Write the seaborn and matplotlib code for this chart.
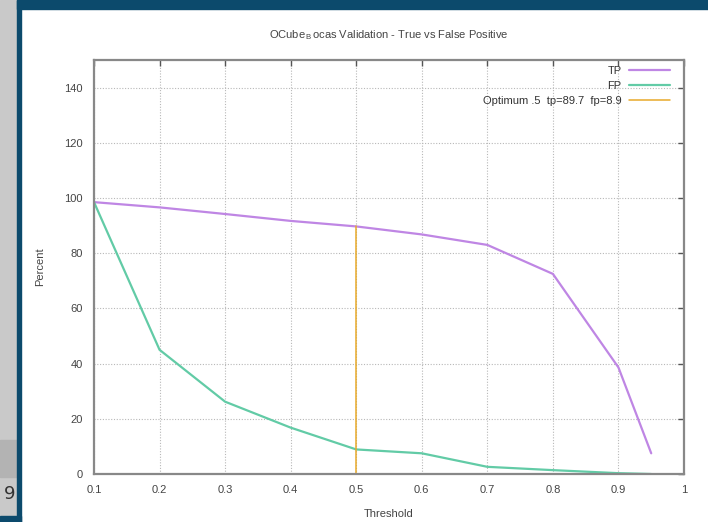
import matplotlib
matplotlib.use('Agg')
import matplotlib.pyplot as plt
from matplotlib.patches import Rectangle
import numpy as np
import pandas as pd
import seaborn as sns

# Data
thresholds = [0.1, 0.2, 0.3, 0.4, 0.5, 0.6, 0.7, 0.8, 0.9, 0.95]
tp = [98.5, 96.6, 94.2, 91.7, 89.7, 86.8, 83.0, 72.5, 38.6, 7.5]
fp = [98.5, 45.0, 26.2, 16.8, 8.9, 7.5, 2.6, 1.4, 0.3, 0.0]
opt_x = 0.5
opt_tp = 89.7
opt_fp = 8.9
x_ticks = [0.1, 0.2, 0.3, 0.4, 0.5, 0.6, 0.7, 0.8, 0.9, 1.0]
x_labels = ['0.1', '0.2', '0.3', '0.4', '0.5', '0.6', '0.7', '0.8', '0.9', '1']
y_ticks = [0, 20, 40, 60, 80, 100, 120, 140]

df = pd.DataFrame({
    'Threshold': thresholds * 2,
    'Percent': tp + fp,
    'series': ['TP'] * len(tp) + ['FP'] * len(fp),
})
opt_label = f'Optimum .5  tp={opt_tp}  fp={opt_fp}'
df_opt = pd.DataFrame({'Threshold': [opt_x, opt_x], 'Percent': [0, opt_tp], 'series': [opt_label] * 2})

sns.set_theme(style='white')
plt.rcParams['font.family'] = ['Liberation Sans', 'DejaVu Sans']
plt.rcParams['mathtext.fontset'] = 'custom'
plt.rcParams['mathtext.rm'] = 'Liberation Sans'

fig = plt.figure(figsize=(7.08, 5.22), dpi=100)
ax = fig.add_axes([94 / 708, 48 / 522, 590 / 708, 414 / 522])

palette = {'TP': '#bf86e4', 'FP': '#62cba6'}
sns.lineplot(data=df, x='Threshold', y='Percent', hue='series', palette=palette,
             linewidth=1.6, ax=ax, estimator=None, sort=False)
sns.lineplot(data=df_opt, x='Threshold', y='Percent', hue='series',
             palette={opt_label: '#e8aa2a'}, linewidth=1.1, ax=ax, estimator=None)

ax.set_xlim(0.1, 1.0)
ax.set_ylim(0, 150)
ax.set_xticks(x_ticks)
ax.set_xticklabels(x_labels)
ax.set_yticks(y_ticks)
ax.grid(True, color='#b8b8b8', linestyle=(0, (1, 1.5)), linewidth=0.8)
ax.tick_params(direction='in', length=4, width=1, color='#555555', top=True, right=True,
               labelsize=8, labelcolor='#444444', pad=8)
for s in ax.spines.values():
    s.set_color('#888888')
    s.set_linewidth(1.6)

ax.set_xlabel('Threshold', fontsize=8, color='#444444', labelpad=10)
ax.set_ylabel('Percent', fontsize=8, color='#444444', labelpad=14)
ax.set_title(r'OCube$_{\,\mathrm{B}\,}$ocas Validation - True vs False Positive',
             fontsize=8, color='#444444', pad=16)

handles, labels = ax.get_legend_handles_labels()
leg = ax.legend(handles, labels, loc='upper right', bbox_to_anchor=(0.99, 1.005),
                frameon=False, markerfirst=False,
                fontsize=8, handlelength=3.7, handletextpad=0.7, labelspacing=0.45,
                borderaxespad=0.3)
for t in leg.get_texts():
    t.set_color('#333333')

# slide frame around the chart
fig.patches.append(Rectangle((0, 0), 17 / 708, 1, transform=fig.transFigure, color='#c9c9c9', zorder=0))
fig.patches.append(Rectangle((0, 45 / 522), 17 / 708, 37 / 522, transform=fig.transFigure, color='#b3b3b3', zorder=0))
fig.patches.append(Rectangle((17 / 708, 0), 4 / 708, 1, transform=fig.transFigure, color='#0c4a6c', zorder=0))
fig.patches.append(Rectangle((17 / 708, 1 - 9 / 522), 1, 9 / 522, transform=fig.transFigure, color='#0c4a6c', zorder=0))
fig.patches.append(Rectangle((0, 0), 21 / 708, 6 / 522, transform=fig.transFigure, color='#0c4a6c', zorder=0))
fig.text(10 / 708, 28 / 522, '9', fontsize=13, color='#333333', ha='center', va='center',
         family='DejaVu Sans')

fig.savefig('out.png', dpi=100)
